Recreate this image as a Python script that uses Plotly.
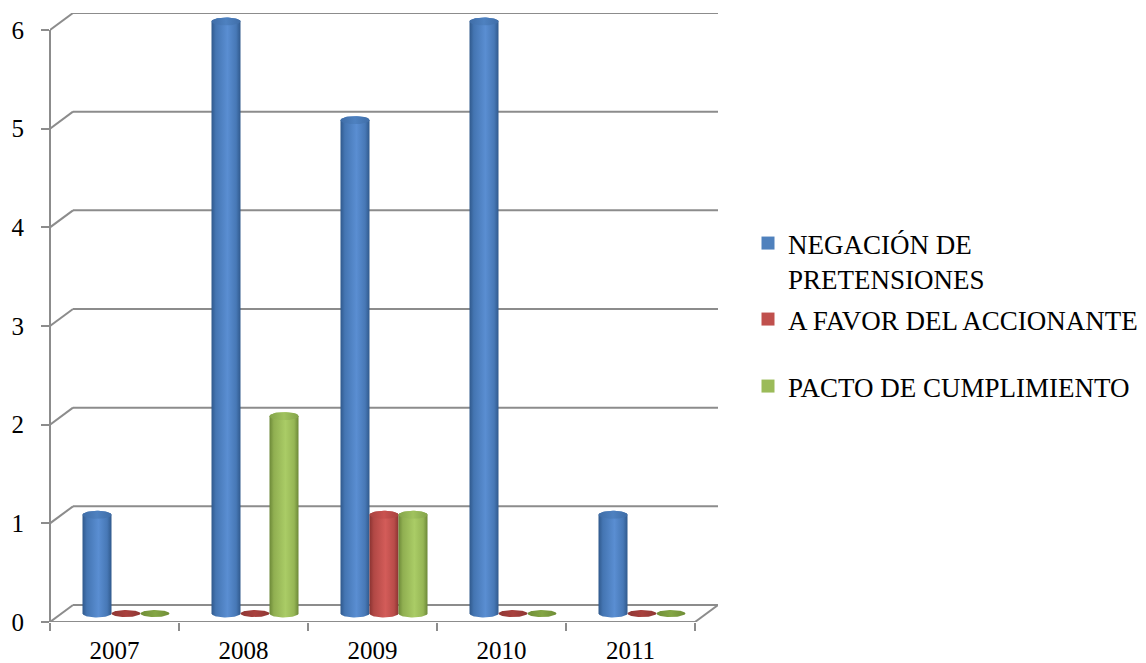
import numpy as np
import plotly.graph_objects as go

# ---------------- data ----------------
years = ["2007", "2008", "2009", "2010", "2011"]
negacion = [1, 6, 5, 6, 1]
a_favor = [0, 0, 1, 0, 0]
pacto = [0, 2, 1, 0, 0]
series_names = ["NEGACIÓN DE<br>PRETENSIONES", "A FAVOR DEL ACCIONANTE", "PACTO DE CUMPLIMIENTO"]
y_ticks = [0, 1, 2, 3, 4, 5, 6]

# ---------------- styles ----------------
base_colors = ["#4F81BD", "#C0504D", "#9BBB59"]
body_scales = [
    [[0, "#30598C"], [0.15, "#4475B2"], [0.55, "#5A8ED2"], [0.85, "#4778B6"], [1, "#30598C"]],
    [[0, "#8A3331"], [0.15, "#B14845"], [0.55, "#D35C59"], [0.85, "#B94C49"], [1, "#8A3331"]],
    [[0, "#6C8838"], [0.15, "#90AF51"], [0.55, "#AACC66"], [0.85, "#96B655"], [1, "#6C8838"]],
]
cap_scales = [
    [[0, "#3F6DA7"], [0.5, "#4E81C0"], [1, "#3F6DA7"]],
    [[0, "#A8423F"], [0.5, "#C9524F"], [1, "#A8423F"]],
    [[0, "#84A44A"], [0.5, "#A0C25E"], [1, "#84A44A"]],
]
flat_scales = [
    [[0, "#35609A"], [0.5, "#4272AE"], [1, "#35609A"]],
    [[0, "#8E3633"], [0.5, "#A9413E"], [1, "#8E3633"]],
    [[0, "#6F8D36"], [0.5, "#84A645"], [1, "#6F8D36"]],
]
GRID = "#8C8C8C"
FONT = "'Times New Roman', 'Liberation Serif', Tinos, 'DejaVu Serif', serif"

# ---------------- geometry ----------------
W, H = 1146, 663
L, R, T, B = 50, 718, 13, 622
depth_px_x, depth_px_y = 23, 17
n = len(years)
ymax = max(y_ticks)
ppx = (R - L - depth_px_x) / n
ppy = (B - T - depth_px_y) / ymax
DX = depth_px_x / ppx
DY = depth_px_y / ppy
BW = 29 / ppx          # cylinder width (category units)
RY = 4 / ppy           # ellipse half-height (value units)
RY_FLAT = 3.5 / ppy

fig = go.Figure()

series = [negacion, a_favor, pacto]
t = np.linspace(0, np.pi, 40)
s = np.linspace(0, 2 * np.pi, 80)
for k, vals in enumerate(series):
    for i, v in enumerate(vals):
        cx = i + DX / 2 + (k - 1) * BW
        rx = BW / 2
        base = DY / 2
        top = v + DY / 2
        if v > 0:
            xb = cx - rx * np.cos(t)
            yb = base - RY * np.sin(t)
            xt = cx + rx * np.cos(t)
            yt = top + RY * np.sin(t)
            xs = np.concatenate([xb, xt, [xb[0]]])
            ys = np.concatenate([yb, yt, [yb[0]]])
            fig.add_trace(go.Scatter(
                x=xs, y=ys, mode="lines", fill="toself",
                fillgradient=dict(type="horizontal", colorscale=body_scales[k]),
                line=dict(width=0), hoverinfo="skip", showlegend=False))
            fig.add_trace(go.Scatter(
                x=cx + rx * np.cos(s), y=top + RY * np.sin(s), mode="lines", fill="toself",
                fillgradient=dict(type="horizontal", colorscale=cap_scales[k]),
                line=dict(width=0), hoverinfo="skip", showlegend=False))
        else:
            fig.add_trace(go.Scatter(
                x=cx + rx * np.cos(s), y=top + RY_FLAT * np.sin(s), mode="lines", fill="toself",
                fillgradient=dict(type="horizontal", colorscale=flat_scales[k]),
                line=dict(width=0), hoverinfo="skip", showlegend=False))

# legend entries (one legend each so they can be placed like the original)
legend_tops = [219, 295, 362]
for k, name in enumerate(series_names):
    lg = "legend" if k == 0 else f"legend{k + 1}"
    fig.add_trace(go.Scatter(
        x=[None], y=[None], mode="markers", name=name,
        marker=dict(symbol="square", size=13, color=base_colors[k]),
        legend=lg))

# 3D frame: back wall gridlines, floor, front axis
shapes = []
for v in y_ticks:
    shapes.append(dict(type="line", xref="x", yref="y", x0=-0.5, y0=v, x1=-0.5 + DX, y1=v + DY))
    shapes.append(dict(type="line", xref="x", yref="y", x0=-0.5 + DX, y0=v + DY, x1=n - 0.5 + DX, y1=v + DY))
shapes.append(dict(type="line", xref="x", yref="y", x0=-0.5, y0=0, x1=n - 0.5, y1=0))
shapes.append(dict(type="line", xref="x", yref="y", x0=n - 0.5, y0=0, x1=n - 0.5 + DX, y1=DY))
shapes.append(dict(type="line", xref="paper", yref="y", x0=0, y0=0, x1=0, y1=ymax))
for sh in shapes:
    sh["line"] = dict(color=GRID, width=2)
    sh["layer"] = "below"
fig.update_layout(shapes=shapes)

legends = {}
for k in range(3):
    key = "legend" if k == 0 else f"legend{k + 1}"
    legends[key] = dict(
        xref="container", yref="container", x=748 / W, y=1 - legend_tops[k] / H,
        xanchor="left", yanchor="top", valign="top", bgcolor="rgba(0,0,0,0)",
        borderwidth=0, font=dict(family=FONT, size=27, color="black"), itemclick=False)

fig.update_layout(
    width=W, height=H,
    margin=dict(l=L, r=W - R, t=T, b=H - B, pad=0, autoexpand=False),
    plot_bgcolor="white", paper_bgcolor="white",
    font=dict(family=FONT, size=25, color="black"),
    showlegend=True,
    xaxis=dict(
        range=[-0.5, n - 0.5 + DX], tickmode="array", tickvals=list(range(n)), ticktext=years,
        ticks="", showgrid=False, zeroline=False, showline=False, ticklabelstandoff=11,
        minor=dict(tickmode="array", tickvals=[i - 0.5 for i in range(n + 1)], ticks="outside",
                   ticklen=8, tickwidth=2, tickcolor=GRID, showgrid=False),
        fixedrange=True),
    yaxis=dict(
        range=[0, ymax + DY], tickmode="array", tickvals=y_ticks, ticks="outside",
        ticklen=8, tickwidth=2, tickcolor=GRID, showgrid=False, zeroline=False,
        showline=False, ticklabelstandoff=12, fixedrange=True),
    **legends,
)

fig.write_html("out.html")
